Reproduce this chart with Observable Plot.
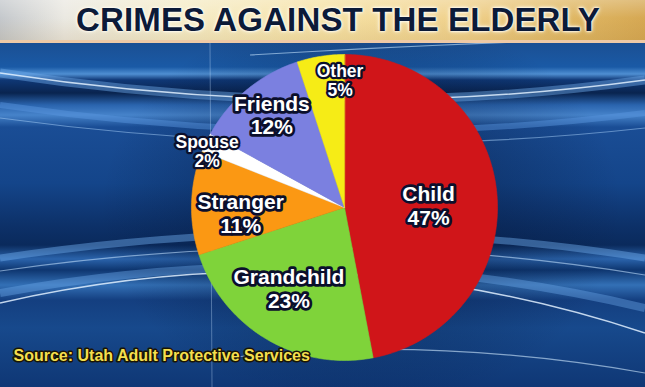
<!DOCTYPE html>
<html>
<head>
<meta charset="utf-8">
<script src="https://cdn.jsdelivr.net/npm/d3@7"></script>
<script src="https://cdn.jsdelivr.net/npm/@observablehq/plot@0.6"></script>
<style>
html, body { margin: 0; padding: 0; width: 645px; height: 387px; overflow: hidden; background: #0f3775; font-family: "Liberation Sans", Arial, sans-serif; }
#title {
  height: 40px; line-height: 40px; padding-left: 76px; box-sizing: content-box;
  font-size: 33px; font-weight: bold; color: #0c1a38; white-space: nowrap; letter-spacing: 0.15px;
  text-shadow: 0 0 2px #fff, 0 0 3px #fff, 0 0 5px #fff8e0;
  background:
    linear-gradient(180deg, rgba(255,255,255,0.25) 0%, rgba(255,255,255,0) 45%, rgba(150,110,40,0.12) 100%),
    linear-gradient(90deg, #c4c8cc 0%, #ebe9e2 10%, #f5ecc8 28%, #f6e2a6 50%, #f0d18c 72%, #e0b865 88%, #d6a853 100%);
  border-bottom: 3px solid #efc9a6;
}
#chart {
  position: relative; width: 645px; height: 344px;
  background:
    radial-gradient(ellipse 260px 200px at 56% 48%, rgba(4,18,48,0.55), rgba(4,18,48,0) 100%),
    linear-gradient(180deg,
      #1b4f93 0px, #1a5aa6 24px, #4f8fd2 31px, #0f3775 37px, #09244f 50px,
      #2a64ae 62px, #4683ca 72px, #1a4d95 84px, #14458a 140px, #0d3169 182px,
      #0a2a5c 202px, #2a63ab 216px, #0e3670 227px, #3370b6 242px, #143f80 257px,
      #17498c 285px, #0f3775 344px);
}
#chart svg { display: block; position: relative; }
</style>
</head>
<body>
<div id="title">CRIMES AGAINST THE ELDERLY</div>
<div id="chart"></div>
<script>
// ---- data ----
const categories = ["Child", "Grandchild", "Stranger", "Spouse", "Friends", "Other"];
const percents   = [47, 23, 11, 2, 12, 5];
const sourceText = "Source: Utah Adult Protective Services";

// ---- styles ----
const colors      = ["#d01519", "#7fd33a", "#fb9813", "#ffffff", "#7b80e0", "#f6ec16"];
const labelRadius = [0.55, 0.64, 0.68, 0.97, 0.77, 0.83];
const labelTurn   = [4, 4, -5, -3, 1.5, 7];   // degrees
const labelBig    = [true, true, true, false, true, false];

// decorative background streaks (not data)
const deco = `<svg xmlns='http://www.w3.org/2000/svg' width='645' height='344'>
<g fill='none'>
<path d='M0 30 Q330 80 645 37' stroke='rgba(110,170,235,0.45)' stroke-width='9'/>
<path d='M0 30 Q330 80 645 37' stroke='rgba(225,240,255,0.85)' stroke-width='1.5'/>
<path d='M0 62 Q330 110 645 70' stroke='rgba(90,150,225,0.45)' stroke-width='6'/>
<path d='M0 75 Q330 120 645 85' stroke='rgba(170,210,250,0.5)' stroke-width='1.2'/>
<path d='M250 12 Q450 0 645 -5' stroke='rgba(200,230,255,0.6)' stroke-width='1.2'/>
<path d='M0 215 Q330 165 645 215' stroke='rgba(110,170,235,0.45)' stroke-width='7'/>
<path d='M0 228 Q330 180 645 232' stroke='rgba(190,220,250,0.6)' stroke-width='1.2'/>
<path d='M0 260 Q330 185 645 290' stroke='rgba(225,240,255,0.85)' stroke-width='1.5'/>
<path d='M0 250 Q330 190 645 265' stroke='rgba(110,170,235,0.4)' stroke-width='8'/>
<path d='M200 318 Q420 290 645 330' stroke='rgba(210,235,255,0.6)' stroke-width='1.2'/>
<path d='M210 0 L212 344' stroke='rgba(200,225,255,0.35)' stroke-width='1'/>
</g></svg>`;
const chartEl = document.getElementById("chart");
chartEl.style.backgroundImage = `url("data:image/svg+xml,${encodeURIComponent(deco)}"), ` + getComputedStyle(chartEl).backgroundImage;

// ---- geometry via d3.pie ----
const deg = Math.PI / 180;
const arcs = d3.pie().sort(null).value((d, i) => percents[i])(categories);
const slices = arcs.flatMap((a, i) => {
  const pts = [{cat: categories[i], x: 0, y: 0}];
  const n = Math.max(2, Math.ceil((a.endAngle - a.startAngle) / deg));
  for (let k = 0; k <= n; k++) {
    const t = a.startAngle + (a.endAngle - a.startAngle) * k / n;
    pts.push({cat: categories[i], x: Math.sin(t), y: Math.cos(t)});
  }
  return pts;
});
const labels = arcs.map((a, i) => {
  const t = (a.startAngle + a.endAngle) / 2 + labelTurn[i] * deg;
  const r = labelRadius[i];
  return {cat: categories[i], x: r * Math.sin(t), y: r * Math.cos(t),
          text: `${categories[i]}\n${percents[i]}%`, big: labelBig[i]};
});

const textStyle = {x: "x", y: "y", text: "text", fill: "white", stroke: "#0b0f2c",
  strokeWidth: 5.5, strokeLinejoin: "round", fontWeight: "bold", lineHeight: 1.13};

const plot = Plot.plot({
  width: 645, height: 344, margin: 0,
  style: {background: "transparent", fontFamily: "'Liberation Sans', Arial, sans-serif", overflow: "visible"},
  x: {domain: [-1, 1], range: [191, 497], axis: null},
  y: {domain: [-1, 1], range: [317, 11], axis: null},
  color: {domain: categories, range: colors},
  marks: [
    Plot.line(slices, {x: "x", y: "y", z: "cat", fill: "cat", stroke: "cat", strokeWidth: 0.6, curve: "linear-closed"}),
    Plot.text(labels.filter(d => d.big), {...textStyle, fontSize: 21}),
    Plot.text(labels.filter(d => !d.big), {...textStyle, fontSize: 17.5, strokeWidth: 4.5, lineHeight: 1.1}),
    Plot.text([sourceText], {frameAnchor: "bottom-left", dx: 13, dy: -27, text: d => d,
      textAnchor: "start", fill: "#f4df4e", stroke: "#1a1505", strokeWidth: 3, strokeLinejoin: "round",
      fontSize: 16, fontWeight: "bold"})
  ]
});
chartEl.appendChild(plot);
</script>
</body>
</html>
